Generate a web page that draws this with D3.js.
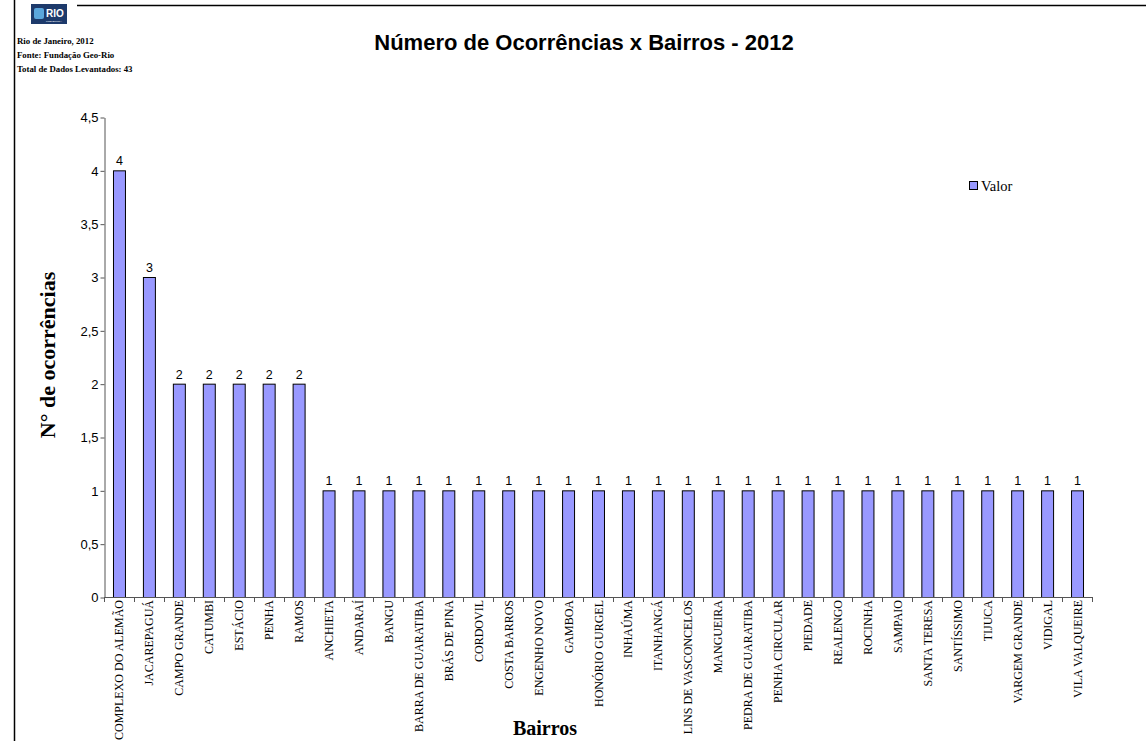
<!DOCTYPE html>
<html>
<head>
<meta charset="utf-8">
<script src="https://cdn.jsdelivr.net/npm/d3@7"></script>
<style>
  html, body { margin: 0; padding: 0; background: #fff; }
  svg { display: block; }
</style>
</head>
<body>
<svg id="chart" width="1146" height="741"></svg>
<script>
const bairros = [
  "COMPLEXO DO ALEMÃO", "JACAREPAGUÁ", "CAMPO GRANDE", "CATUMBI", "ESTÁCIO",
  "PENHA", "RAMOS", "ANCHIETA", "ANDARAÍ", "BANGU", "BARRA DE GUARATIBA",
  "BRÁS DE PINA", "CORDOVIL", "COSTA BARROS", "ENGENHO NOVO", "GAMBOA",
  "HONÓRIO GURGEL", "INHAÚMA", "ITANHANGÁ", "LINS DE VASCONCELOS", "MANGUEIRA",
  "PEDRA DE GUARATIBA", "PENHA CIRCULAR", "PIEDADE", "REALENGO", "ROCINHA",
  "SAMPAIO", "SANTA TERESA", "SANTÍSSIMO", "TIJUCA", "VARGEM GRANDE",
  "VIDIGAL", "VILA VALQUEIRE"
];
const ocorrencias = [
  4, 3, 2, 2, 2, 2, 2, 1, 1, 1, 1, 1, 1, 1, 1, 1, 1, 1, 1, 1, 1,
  1, 1, 1, 1, 1, 1, 1, 1, 1, 1, 1, 1
];
const yTicks = [0, 0.5, 1, 1.5, 2, 2.5, 3, 3.5, 4, 4.5];
const headerLines = [
  "Rio de Janeiro, 2012",
  "Fonte: Fundação Geo-Rio",
  "Total de Dados Levantados: 43"
];

const data = bairros.map((b, i) => ({ bairro: b, valor: ocorrencias[i] }));

const svg = d3.select("#chart");
const serif = "'Liberation Serif', 'Times New Roman', serif";
const sans = "'Liberation Sans', Arial, sans-serif";

// page frame lines
svg.append("line").attr("x1", 14.5).attr("x2", 14.5).attr("y1", 0).attr("y2", 741)
  .attr("stroke", "#000").attr("stroke-width", 1.5);
svg.append("line").attr("x1", 77).attr("x2", 1146).attr("y1", 5.5).attr("y2", 5.5)
  .attr("stroke", "#000").attr("stroke-width", 1.5);

// logo
const logo = svg.append("g").attr("transform", "translate(31,4)");
logo.append("rect").attr("width", 36).attr("height", 20).attr("fill", "#1d3a6b");
logo.append("rect").attr("x", 3).attr("y", 4).attr("width", 10).attr("height", 11)
  .attr("rx", 2).attr("fill", "#5aa6dc");
logo.append("text").attr("x", 15).attr("y", 13).attr("font-family", sans)
  .attr("font-weight", "bold").attr("font-size", 10).attr("fill", "#fff").text("RIO");
logo.append("text").attr("x", 15).attr("y", 17.5).attr("font-family", sans)
  .attr("font-size", 2.5).attr("fill", "#fff").text("PREFEITURA");

// header text
svg.append("g").selectAll("text").data(headerLines).join("text")
  .attr("x", 17).attr("y", (d, i) => 44 + i * 14)
  .attr("font-family", serif).attr("font-weight", "bold").attr("font-size", 8.8)
  .attr("fill", "#000").text(d => d);

// title
svg.append("text").attr("x", 584).attr("y", 50).attr("text-anchor", "middle")
  .attr("font-family", sans).attr("font-weight", "bold").attr("font-size", 22)
  .attr("fill", "#000").text("Número de Ocorrências x Bairros - 2012");

// scales
const x = d3.scaleBand().domain(bairros).range([104, 1092]).paddingInner(0.6).paddingOuter(0.3);
const y = d3.scaleLinear().domain([0, 4.5]).range([597, 117]);

// bars
svg.append("g").selectAll("rect").data(data).join("rect")
  .attr("x", d => x(d.bairro) + 0.5)
  .attr("y", d => y(d.valor) + 0.5)
  .attr("width", x.bandwidth())
  .attr("height", d => y(0) - y(d.valor))
  .attr("fill", "#9999ff").attr("stroke", "#000").attr("stroke-width", 1);

// value labels
svg.append("g").selectAll("text").data(data).join("text")
  .attr("x", d => x(d.bairro) + x.bandwidth() / 2 + 0.5)
  .attr("y", d => y(d.valor) - 5)
  .attr("text-anchor", "middle").attr("font-family", sans).attr("font-size", 12.5)
  .attr("fill", "#000").text(d => d.valor);

// y axis
const fmt = v => String(v).replace(".", ",");
const yAxis = svg.append("g").attr("transform", "translate(104.5,0.5)")
  .call(d3.axisLeft(y).tickValues(yTicks).tickFormat(fmt).tickSize(4).tickSizeOuter(0));
yAxis.select(".domain").attr("stroke", "#555");
yAxis.selectAll(".tick line").attr("stroke", "#555");
yAxis.selectAll(".tick text").attr("font-family", sans).attr("font-size", 13)
  .attr("fill", "#000").attr("x", -6);

// x axis line with category boundary ticks
const xg = svg.append("g");
xg.append("line").attr("x1", 104).attr("x2", 1092).attr("y1", y(0) + 0.5).attr("y2", y(0) + 0.5)
  .attr("stroke", "#555");
const bounds = d3.range(bairros.length + 1).map(i => 104 + i * (1092 - 104) / bairros.length);
xg.selectAll("line.b").data(bounds).join("line").attr("class", "b")
  .attr("x1", d => Math.round(d) + 0.5).attr("x2", d => Math.round(d) + 0.5)
  .attr("y1", y(0)).attr("y2", y(0) + 5)
  .attr("stroke", "#555");

// x category labels
svg.append("g").selectAll("text").data(bairros).join("text")
  .attr("transform", d => `translate(${x(d) + x.bandwidth() / 2 + 4.5},${y(0) + 3}) rotate(-90)`)
  .attr("text-anchor", "end").attr("font-family", serif).attr("font-size", 12)
  .attr("fill", "#000").text(d => d);

// axis titles
svg.append("text").attr("transform", "translate(55,355) rotate(-90)")
  .attr("text-anchor", "middle").attr("font-family", serif).attr("font-weight", "bold")
  .attr("font-size", 22).attr("fill", "#000").text("N° de ocorrências");
svg.append("text").attr("x", 545).attr("y", 735).attr("text-anchor", "middle")
  .attr("font-family", serif).attr("font-weight", "bold").attr("font-size", 20)
  .attr("fill", "#000").text("Bairros");

// legend
const lg = svg.append("g").attr("transform", "translate(969,181)");
lg.append("rect").attr("x", 0.5).attr("y", 0.5).attr("width", 8).attr("height", 8)
  .attr("fill", "#9999ff").attr("stroke", "#000");
lg.append("text").attr("x", 12).attr("y", 10).attr("font-family", serif).attr("font-size", 14.5)
  .attr("fill", "#000").text("Valor");
</script>
</body>
</html>
